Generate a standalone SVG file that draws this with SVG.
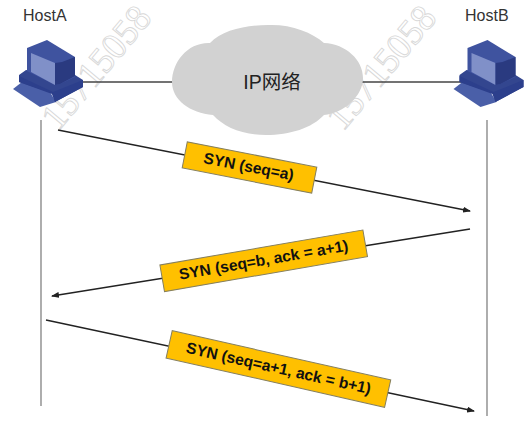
<svg xmlns="http://www.w3.org/2000/svg" width="525" height="429" viewBox="0 0 525 429">
<style>
.host{font:16px "Liberation Sans",Arial,sans-serif;fill:#333}
.lbl{font:bold 15.600px "Liberation Sans",Arial,sans-serif;fill:#111;text-anchor:middle;dominant-baseline:central}
.box{fill:#ffc000;stroke:#857f5e;stroke-width:1}
.wm{font:37px "Liberation Serif",serif;fill:#fff;stroke:#d8d8d8;stroke-width:.9}
.life{stroke:#777;stroke-width:1.2;fill:none}
.arr{stroke:#222;stroke-width:1.5;fill:none;marker-end:url(#ah)}
.link{stroke:#444;stroke-width:1.5;fill:none}
</style>
<defs>
<marker id="ah" markerWidth="8" markerHeight="6" refX="7" refY="3" orient="auto" markerUnits="userSpaceOnUse"><path d="M0 0L8 3L0 6Z" fill="#222"/></marker>
<g id="pc">
<path d="M13 89L22 82L50 92L56 102L40 107Z" fill="#4a5fa8"/>
<path d="M19 75L26 70L75 75L83 80L83 87L55 102L52 93L19 82Z" fill="#33468f"/>
<path d="M27 48L47 40L75 57L75 77L60 84L55 85L27 71Z" fill="#3f539f"/>
<path d="M31 53L55 63L55 85L31 72Z" fill="#8090c8"/>
<path d="M55 63L62 62L75 57L75 76L60 84L55 85Z" fill="#2a3a80"/>
<path d="M19 76L53 92L83 80L83 87L55 102L52 94L19 82Z" fill="#2c3f8c"/>
</g>
</defs>
<rect width="525" height="429" fill="#fff"/>
<text class="wm" transform="translate(58 132) rotate(-50)">15715058</text>
<text class="wm" transform="translate(343 132) rotate(-50)">15715058</text>
<g id="connectors">
<line class="link" x1="80" y1="82" x2="175" y2="82"/>
<line class="link" x1="362" y1="82" x2="462" y2="82"/>
<line class="life" x1="41" y1="120" x2="41" y2="406"/>
<line class="life" x1="487" y1="120" x2="487" y2="416"/>
<line class="arr" x1="58" y1="130" x2="470" y2="211"/>
<line class="arr" x1="470" y1="229" x2="52" y2="296"/>
<line class="arr" x1="46" y1="320" x2="474" y2="411"/>
</g>
<g id="cloud">
<path d="M172 82C172 62 188 42 210 43C222 30 246 25 268 25C290 24 312 32 324 43C346 44 363 60 363 78C363 96 344 113 324 115C312 128 290 135 266 135C242 135 224 127 213 115C190 113 172 100 172 82Z" fill="#d2d2d2"/>
<text x="272" y="89" style="font:19.500px 'Liberation Sans','Noto Sans CJK SC',sans-serif;fill:#222;text-anchor:middle">IP网络</text>
</g>
<g id="hostA">
<text class="host" x="23" y="21">HostA</text>
<use href="#pc"/>
</g>
<g id="hostB">
<text class="host" x="465" y="21">HostB</text>
<use href="#pc" x="440.500"/>
</g>
<g id="msg1" transform="translate(249.500 167.500) rotate(11.100)">
<rect class="box" x="-66" y="-13.250" width="132" height="26.500"/>
<text class="lbl" x="-1" y="-1">SYN (seq=a)</text>
</g>
<g id="msg2" transform="translate(263.700 260.800) rotate(-9.800)">
<rect class="box" x="-103" y="-13.500" width="206" height="27"/>
<text class="lbl" x="0" y="-1">SYN (seq=b, ack = a+1)</text>
</g>
<g id="msg3" transform="translate(278.400 369) rotate(12.700)">
<rect class="box" x="-112" y="-14" width="224" height="28"/>
<text class="lbl" x="0" y="-1">SYN (seq=a+1, ack = b+1)</text>
</g>
</svg>
